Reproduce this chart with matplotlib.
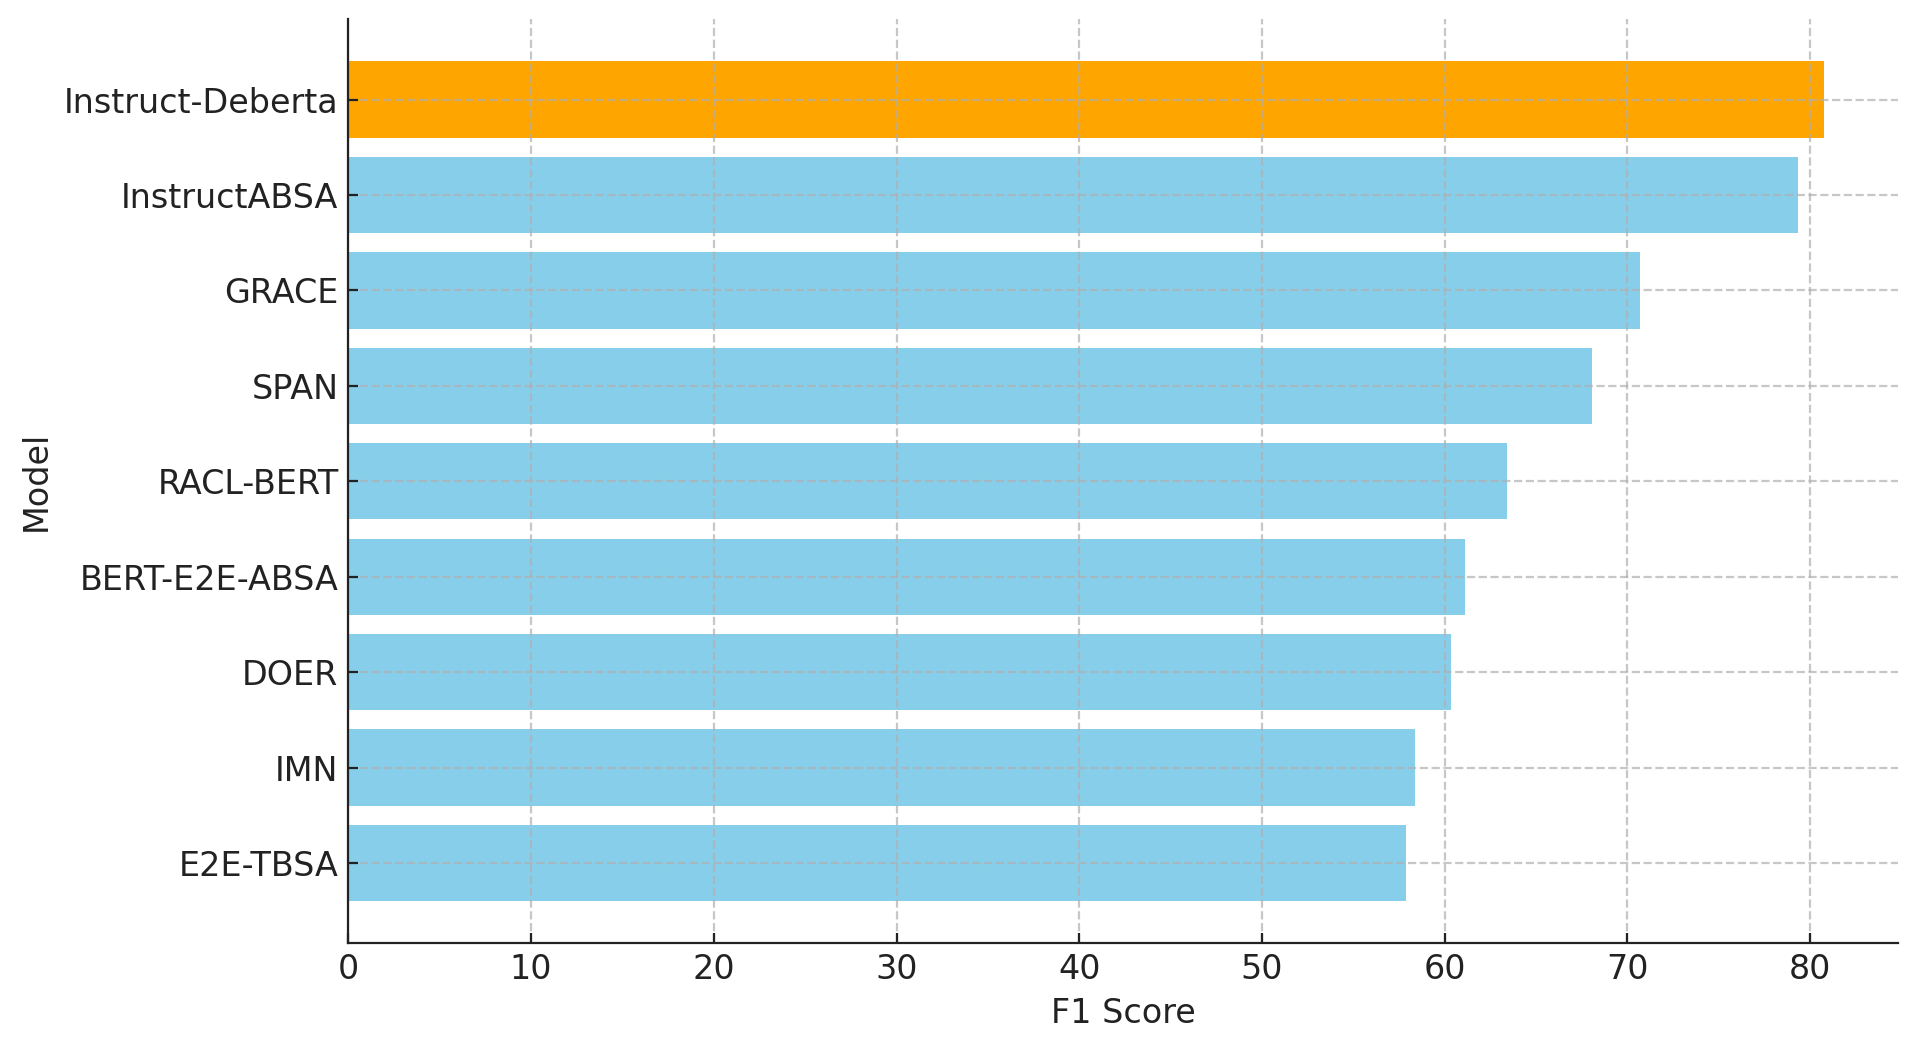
import matplotlib
matplotlib.use("Agg")
import matplotlib.pyplot as plt

models = ["Instruct-Deberta", "InstructABSA", "GRACE", "SPAN", "RACL-BERT",
          "BERT-E2E-ABSA", "DOER", "IMN", "E2E-TBSA"]
f1_scores = [80.77, 79.34, 70.71, 68.06, 63.40, 61.12, 60.35, 58.37, 57.90]
bar_colors = ["orange"] + ["skyblue"] * 8

plt.rcParams['font.family'] = ['DejaVu Sans']
plt.rcParams['text.color'] = '#222222'
plt.rcParams['axes.labelcolor'] = '#222222'
plt.rcParams['xtick.color'] = '#222222'
plt.rcParams['ytick.color'] = '#222222'

fig = plt.figure(figsize=(9.59, 5.25), dpi=200)
ax = fig.add_axes([0.1816, 0.1017, 0.9896 - 0.1816, 0.9815 - 0.1017])

ax.barh(models, f1_scores, color=bar_colors, height=0.8)
ax.invert_yaxis()

ax.grid(True, linestyle='--', alpha=0.7)
ax.spines['top'].set_visible(False)
ax.spines['right'].set_visible(False)
for s in ['left', 'bottom']:
    ax.spines[s].set_color('#222222')
ax.tick_params(axis='both', direction='in', labelsize=12)
ax.set_xlabel("F1 Score", fontsize=12)
ax.set_ylabel("Model", fontsize=12)

fig.savefig("out.png", dpi=200)
